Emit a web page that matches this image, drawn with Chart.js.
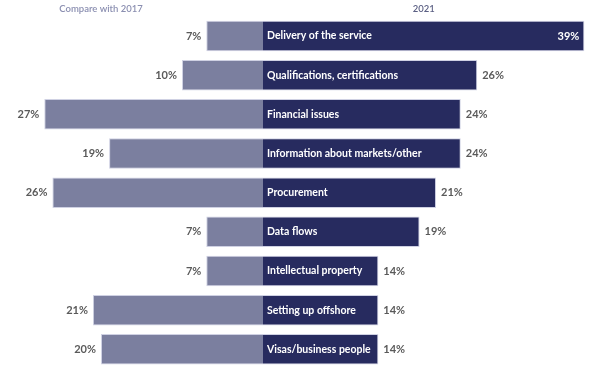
<!DOCTYPE html>
<html>
<head>
<meta charset="utf-8">
<script src="https://cdn.jsdelivr.net/npm/chart.js@4"></script>
<style>
  html, body { margin: 0; padding: 0; background: #ffffff; }
  #wrap { width: 592px; height: 382px; position: relative; }
</style>
</head>
<body>
<div id="wrap"><canvas id="c" width="592" height="382"></canvas></div>
<script>
// ---- data ----
const categories = [
  'Delivery of the service',
  'Qualifications, certifications',
  'Financial issues',
  'Information about markets/other',
  'Procurement',
  'Data flows',
  'Intellectual property',
  'Setting up offshore',
  'Visas/business people'
];
const values2017 = [7, 10, 27, 19, 26, 7, 7, 21, 20];
const values2021 = [39, 26, 24, 24, 21, 19, 14, 14, 14];
const seriesNames = ['Compare with 2017', '2021'];

// ---- layout / style constants ----
const W = 592, H = 382;
const CENTER_PX = 263;
const PX_LEFT = 8.1;
const PX_RIGHT = 8.24;
const LEFT_COLOR = '#7b7f9f';
const RIGHT_COLOR = '#272b5f';
const BORDER_COLOR = '#cfd1e3';
const VALUE_COLOR = '#5a5a5a';
const FONT = 'Lato, "Open Sans", sans-serif';

const maxRight = Math.max(...values2021);

const labelPlugin = {
  id: 'labels',
  afterDatasetsDraw(chart) {
    const ctx = chart.ctx;
    const left = chart.getDatasetMeta(0).data;
    const right = chart.getDatasetMeta(1).data;
    ctx.save();
    ctx.textBaseline = 'middle';
    for (let i = 0; i < categories.length; i++) {
      const r = right[i], l = left[i];
      // category label inside right bar
      ctx.font = 'bold 10.5px ' + FONT;
      ctx.fillStyle = '#ffffff';
      ctx.textAlign = 'left';
      ctx.fillText(categories[i], r.base + 4, r.y);
      // right value
      ctx.font = 'bold 11px ' + FONT;
      const rv = values2021[i] + '%';
      if (values2021[i] === maxRight) {
        ctx.fillStyle = '#ffffff';
        ctx.textAlign = 'right';
        ctx.fillText(rv, r.x - 5, r.y);
      } else {
        ctx.fillStyle = VALUE_COLOR;
        ctx.textAlign = 'left';
        ctx.fillText(rv, r.x + 5, r.y);
      }
      // left value
      ctx.fillStyle = VALUE_COLOR;
      ctx.textAlign = 'right';
      ctx.fillText(values2017[i] + '%', l.x - 5, l.y);
    }
    // headers
    const xl = chart.scales.xL, xr = chart.scales.xR;
    ctx.font = '600 9.5px ' + FONT;
    ctx.textAlign = 'center';
    ctx.fillStyle = '#8b8fb1';
    ctx.fillText(seriesNames[0], xl.getPixelForValue(-20), 8.5);
    ctx.fillStyle = '#5b5f83';
    ctx.fillText(seriesNames[1], xr.getPixelForValue(19.5), 8.5);
    ctx.restore();
  }
};

new Chart(document.getElementById('c'), {
  type: 'bar',
  data: {
    labels: categories,
    datasets: [
      {
        label: seriesNames[0],
        data: values2017.map(v => -v),
        xAxisID: 'xL',
        grouped: false,
        backgroundColor: LEFT_COLOR,
        borderColor: BORDER_COLOR,
        borderWidth: 1,
        borderSkipped: 'start',
        barPercentage: 0.78,
        categoryPercentage: 1
      },
      {
        label: seriesNames[1],
        data: values2021,
        xAxisID: 'xR',
        grouped: false,
        backgroundColor: RIGHT_COLOR,
        borderColor: BORDER_COLOR,
        borderWidth: 1,
        borderSkipped: 'start',
        barPercentage: 0.78,
        categoryPercentage: 1
      }
    ]
  },
  options: {
    indexAxis: 'y',
    responsive: false,
    animation: false,
    layout: { padding: { top: 16.4, bottom: 13.1, left: 0, right: 0 } },
    plugins: { legend: { display: false }, tooltip: { enabled: false } },
    scales: {
      xL: {
        type: 'linear',
        axis: 'x',
        display: false,
        min: -CENTER_PX / PX_LEFT,
        max: (W - CENTER_PX) / PX_LEFT
      },
      xR: {
        type: 'linear',
        axis: 'x',
        display: false,
        min: -CENTER_PX / PX_RIGHT,
        max: (W - CENTER_PX) / PX_RIGHT
      },
      y: {
        display: false
      }
    }
  },
  plugins: [labelPlugin]
});
</script>
</body>
</html>
